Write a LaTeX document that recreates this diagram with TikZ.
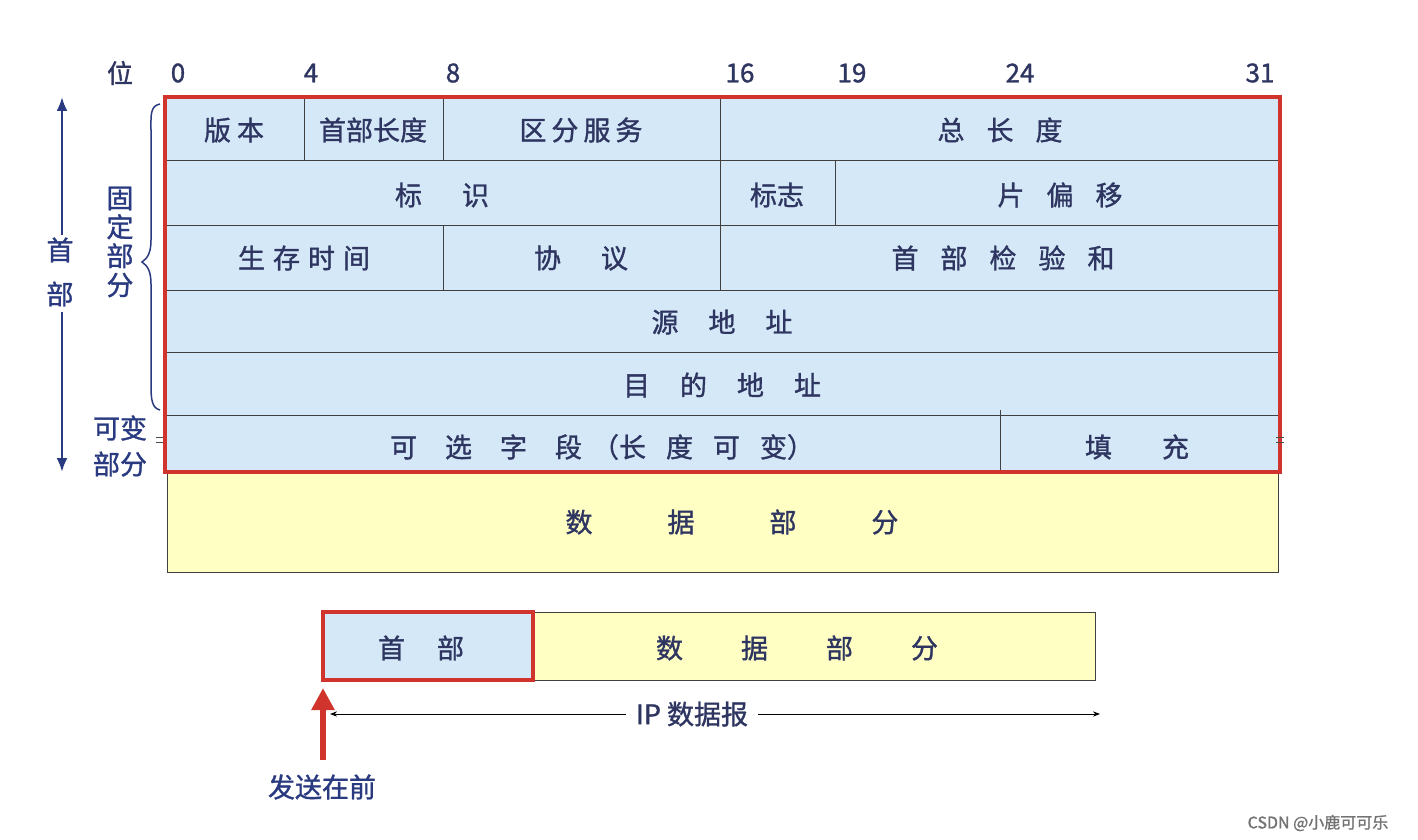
\documentclass[tikz,border=0pt]{standalone}
\usepackage{fontspec}
\setmainfont{Noto Sans CJK SC}[FakeBold=1.2]
\usetikzlibrary{arrows.meta,decorations.pathreplacing}
\definecolor{hb}{HTML}{D5E8F7}
\definecolor{yl}{HTML}{FFFFC4}
\definecolor{rd}{HTML}{D0342C}
\definecolor{tx}{HTML}{2E3560}
\definecolor{nv}{HTML}{2A3A80}
\tikzset{cell/.style={draw=black!75,line width=1pt},
 lab/.style={text=tx,font=\fontsize{27}{27}\selectfont,inner sep=0pt},
 bit/.style={text=tx,font=\fontsize{26}{26}\selectfont,inner sep=0pt}}
\begin{document}
\begin{tikzpicture}[x=1pt,y=-1pt]
\useasboundingbox (0,0) rectangle (1418,840);
\fill[white] (0,0) rectangle (1418,840);
\fill[hb] (165,97) rectangle (1280,472);
\fill[yl] (167,472) rectangle (1278,572);
\draw[cell] (167,472) rectangle (1278,572);
\foreach \y in {160,225,290,352,415}{\draw[cell] (165,\y) -- (1280,\y);}
\draw[cell] (304,97)--(304,160); \draw[cell] (443,97)--(443,160); \draw[cell] (720,97)--(720,160);
\draw[cell] (720,160)--(720,225); \draw[cell] (835,160)--(835,225);
\draw[cell] (443,225)--(443,290); \draw[cell] (720,225)--(720,290);
\draw[cell] (1000,410)--(1000,472);
\draw[rd,line width=4pt] (165,97) rectangle (1280,472);
\node[lab] (v) at (234,130) {版\hspace{6pt}本};
\node[lab] (hl) at (373,130) {首部长度};
\node[lab] (ds) at (581,130) {区\hspace{5pt}分\hspace{5pt}服\hspace{5pt}务};
\node[lab] (tl) at (1000,130) {总\hspace{22pt}长\hspace{22pt}度};
\node[lab] (id) at (442,195) {标\hspace{40pt}识};
\node[lab] (fl) at (777,195) {标志};
\node[lab] (fo) at (1060,195) {片\hspace{22pt}偏\hspace{22pt}移};
\node[lab] (ttl) at (304,258) {生\hspace{8pt}存\hspace{8pt}时\hspace{8pt}间};
\node[lab] (pr) at (581,258) {协\hspace{40pt}议};
\node[lab] (cs) at (1003,258) {首\hspace{22pt}部\hspace{22pt}检\hspace{22pt}验\hspace{22pt}和};
\node[lab] (sa) at (722,322) {源\hspace{30pt}地\hspace{30pt}址};
\node[lab] (da) at (722,385) {目\hspace{30pt}的\hspace{30pt}地\hspace{30pt}址};
\node[lab] (op) at (602,447) {可\hspace{28pt}选\hspace{28pt}字\hspace{28pt}段\hspace{10pt}（长\hspace{20pt}度\hspace{20pt}可\hspace{20pt}变）};
\node[lab] (pd) at (1137,447) {填\hspace{50pt}充};
\node[lab] (dt) at (732,522) {数\hspace{75pt}据\hspace{75pt}部\hspace{75pt}分};
\node[bit] (b) at (120,73) {位};
\foreach \x/\t in {178/0,311/4,453/8,740/16,852/19,1020/24,1260/31}{\node[bit] (b\t) at (\x,73) {\t};}
\coordinate (at) at (62,97); \coordinate (ab) at (62,472);
\node[lab,text=nv,align=center,font=\fontsize{27}{44}\selectfont] (sb) at (60,272) {首\\部};
\draw[nv,line width=2.5pt,-{Latex[length=14pt,width=11pt]}] (62,235)--(at);
\draw[nv,line width=2.5pt,-{Latex[length=14pt,width=11pt]}] (62,312)--(ab);
\draw[nv,line width=1.5pt] (160,104) .. controls (150,106) and (151,115) .. (151,130) -- (151,240) .. controls (151,252) and (148,258) .. (142,262) .. controls (148,266) and (151,272) .. (151,284) -- (151,385) .. controls (151,400) and (152,408) .. (160,410);
\node[lab,text=nv,align=center,font=\fontsize{27}{29}\selectfont] (gd) at (120,242) {固\\定\\部\\分};
\node[lab,text=nv,align=center,font=\fontsize{27}{36}\selectfont] (kb) at (120,446) {可变\\部分};
\draw[black!70,line width=1pt] (156,437)--(163,437) (156,442)--(163,442) (1276,437)--(1284,437) (1276,442)--(1284,442);
\fill[hb] (323,612) rectangle (533,680);
\fill[yl] (533,612) rectangle (1095,680);
\draw[cell] (533,612) rectangle (1095,680);
\draw[rd,line width=4pt] (323,612) rectangle (533,680);
\node[lab] (h2) at (421,648) {首\hspace{32pt}部};
\node[lab] (d2) at (797,648) {数\hspace{58pt}据\hspace{58pt}部\hspace{58pt}分};
\node[lab,fill=white,inner xsep=10pt] (ip) at (692,714) {IP 数据报};
\coordinate (il) at (330,714); \coordinate (ir) at (1100,714);
\draw[black,line width=1pt,-{Stealth[length=7pt]}] (ip.west)--(il);
\draw[black,line width=1pt,-{Stealth[length=7pt]}] (ip.east)--(ir);
\coordinate (ra) at (323,688);
\draw[rd,line width=6pt,-{Triangle[length=22pt,width=22pt]}] (323,760)--(ra);
\node[lab,text=nv] (sf) at (322,787) {发送在前};
\node[text=black!55,font=\fontsize{16}{16}\selectfont,inner sep=0pt] (wm) at (1318,823) {CSDN @小鹿可可乐};
\end{tikzpicture}
\end{document}
